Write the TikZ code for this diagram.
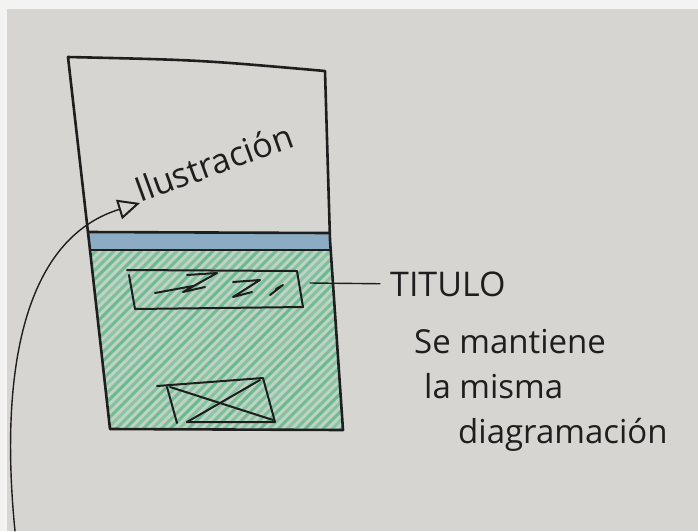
\documentclass[tikz,border=0pt]{standalone}
\usepackage{fontspec}
\setmainfont{Open Sans}
\usetikzlibrary{arrows.meta}
\definecolor{paper}{RGB}{214,213,209}
\definecolor{ink}{RGB}{30,30,30}
\definecolor{bandblue}{RGB}{140,172,196}
\definecolor{greenfill}{RGB}{190,211,197}
\definecolor{greenhatch}{RGB}{52,170,104}
\tikzset{
  marker/.style={draw=ink, line width=2.6pt, line join=round, line cap=round},
  penline/.style={draw=ink, line width=2pt, line join=round, line cap=round},
  thinink/.style={draw=ink, line width=1.4pt, line cap=round},
  hand/.style={font=\fontsize{34}{40}\selectfont, text=ink, inner sep=0pt},
  note/.style={font=\fontsize{33}{45}\selectfont, text=ink, inner sep=0pt, align=left},
}
\begin{document}
\begin{tikzpicture}[x=1pt,y=-1pt]
\useasboundingbox (0,0) rectangle (698,531);
\fill[paper] (0,0) rectangle (698,531);
\fill[white!70!paper] (0,0) rectangle (698,9);
\fill[white!70!paper] (0,0) rectangle (7,531);

% green area
\path[fill=greenfill] (90,250) -- (330,250) -- (343,430) -- (110,429) -- cycle;
\begin{scope}
  \clip (90,250) -- (330,250) -- (343,430) -- (110,429) -- cycle;
  \foreach \i [count=\k] in {0,9,...,460} {
    \pgfmathsetmacro{\op}{0.35+0.25*mod(\k*7,5)/4}
    \draw[greenhatch, opacity=\op, line width=3pt, line cap=round]
      (\i-120,440) -- (\i+80,240);
  }
\end{scope}
% blue band
\path[fill=bandblue] (88,232) -- (329,232) -- (330,250) -- (90,250) -- cycle;

% frame
\draw[marker] (68,57) .. controls (200,60) .. (325,71) -- (330,240) -- (343,430) -- (110,429) -- (90,250) -- cycle;
\draw[marker] (88,232) -- (329,233);
\draw[marker] (90,250) -- (331,250);

% title box
\draw[penline] (127,270) -- (297,271) -- (303,307) -- (135,309) -- (129,275);
\draw[penline] (155,293) -- (193,286)
  (187,275) -- (217,273) -- (183,292) -- (205,287)
  (233,282) -- (260,280) -- (233,297) -- (252,292)
  (270,295) -- (283,285) -- (276,289);
\coordinate (tright) at (310,283);

% image box
\draw[penline] (157,386) -- (263,378) -- (275,422) -- (187,422);
\draw[penline] (167,387) -- (177,423);
\draw[penline] (170,387) -- (273,420);
\draw[penline] (260,380) -- (187,422);

% texts
\node[hand, anchor=base west] (titulo) at (390,296) {TITULO};
\node[note, anchor=base west] (l1) at (414,353) {Se mantiene};
\node[note, anchor=base west] (l2) at (424,398) {la misma};
\node[note, anchor=base west] (l3) at (458,443) {diagramación};
\draw[thinink, shorten >=10pt] (tright) -- (titulo.west);

\node[hand, anchor=base west, rotate=20] (ilus) at (140,203) {Ilustración};
\coordinate (cstart) at (15,531);
\draw[thinink, -{Triangle[open, length=22pt, width=20pt, line width=2pt]}]
  (cstart) .. controls (0,380) and (20,240) .. (ilus.base west);
\end{tikzpicture}
\end{document}
